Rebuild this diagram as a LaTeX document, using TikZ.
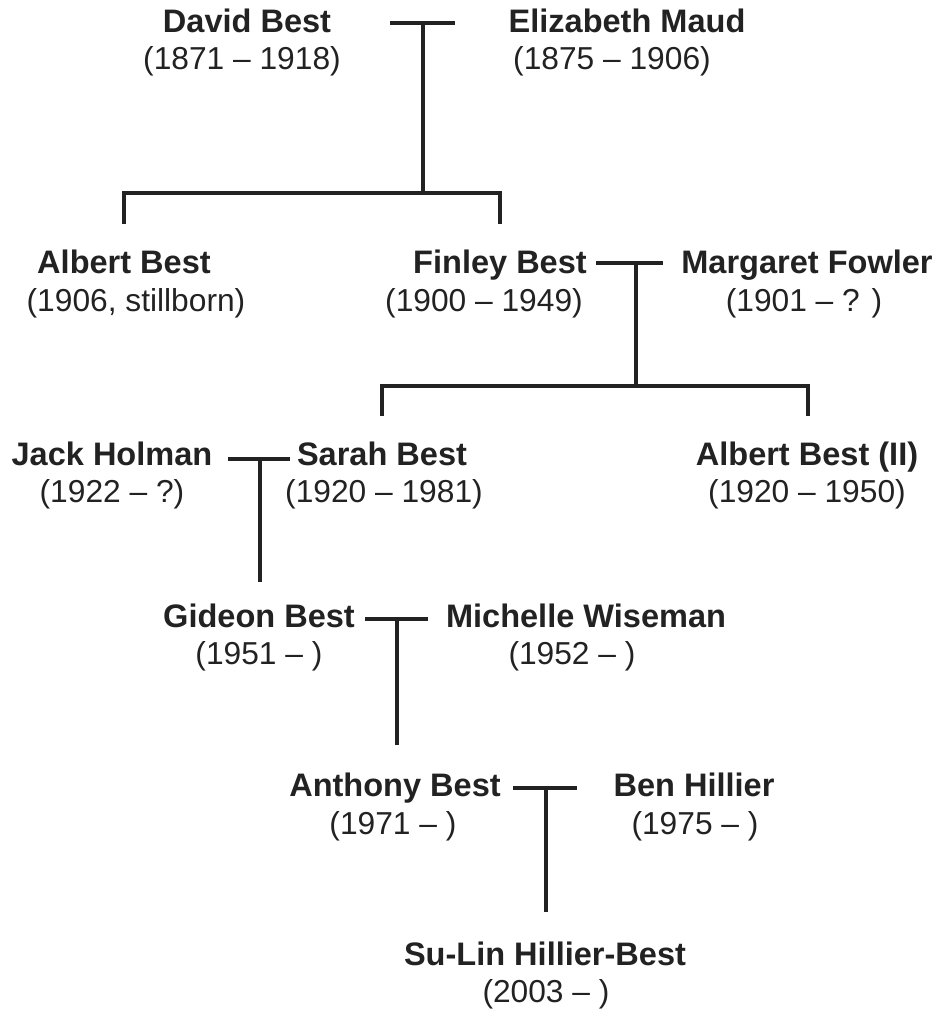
\documentclass[tikz,border=0pt]{standalone}
\usepackage{fontspec}
\setmainfont{Liberation Sans}
\definecolor{ink}{HTML}{222222}
\begin{document}
\begin{tikzpicture}[x=0.75pt,y=-0.75pt,
  nm/.style={font=\fontsize{24.4}{29}\selectfont\bfseries, anchor=base, inner sep=0pt, text=ink},
  dt/.style={font=\fontsize{23.8}{28}\selectfont, anchor=base, inner sep=0pt, text=ink},
  ln/.style={draw=ink, line width=2.9pt}]
\useasboundingbox (0,0) rectangle (941,1010);
% row 1
\node[nm] (david) at (247,32) {David Best};
\node[dt] (davidd) at (242,69) {(1871 -- 1918)};
\node[nm] (eliz) at (627,32) {Elizabeth Maud};
\node[dt] (elizd) at (612,69) {(1875 -- 1906)};
% row 2
\node[nm] (albert) at (124,273) {Albert Best};
\node[dt] (albertd) at (136,311) {(1906, stillborn)};
\node[nm] (finley) at (500,273) {Finley Best};
\node[dt] (finleyd) at (484,311) {(1900 -- 1949)};
\node[nm] (marg) at (807,273) {Margaret Fowler};
\node[dt] (margd) at (804,311) {(1901 -- ? )};
% row 3
\node[nm] (jack) at (112,465) {Jack Holman};
\node[dt] (jackd) at (112,502) {(1922 -- ?)};
\node[nm] (sarah) at (382,465) {Sarah Best};
\node[dt] (sarahd) at (384,502) {(1920 -- 1981)};
\node[nm] (albert2) at (807,465) {Albert Best (II)};
\node[dt] (albert2d) at (807,502) {(1920 -- 1950)};
% row 4
\node[nm] (gideon) at (259,627) {Gideon Best};
\node[dt] (gideond) at (259,664) {(1951 -- )};
\node[nm] (mich) at (586,627) {Michelle Wiseman};
\node[dt] (michd) at (572,664) {(1952 -- )};
% row 5
\node[nm] (anth) at (395,796) {Anthony Best};
\node[dt] (anthd) at (393,834) {(1971 -- )};
\node[nm] (ben) at (694,796) {Ben Hillier};
\node[dt] (bend) at (695,834) {(1975 -- )};
% row 6
\node[nm] (sulin) at (545,965) {Su-Lin Hillier-Best};
\node[dt] (sulind) at (546,1002) {(2003 -- )};
% marriage 1
\coordinate (m1a) at (390,23);
\coordinate (m1b) at (455,23);
\coordinate (m1) at (423,23);
\coordinate (b1) at (423,193);
\coordinate (c1a) at (124,224);
\coordinate (c1b) at (500,224);
\draw[ln] (m1a) -- (m1b);
\draw[ln] (m1) -- (b1);
\draw[ln] (c1a) -- (c1a |- b1) -- (c1b |- b1) -- (c1b);
% marriage 2
\coordinate (m2a) at (596,263);
\coordinate (m2b) at (663,263);
\coordinate (m2) at (636,263);
\coordinate (b2) at (636,386);
\coordinate (c2a) at (382,416);
\coordinate (c2b) at (808,416);
\draw[ln] (m2a) -- (m2b);
\draw[ln] (m2) -- (b2);
\draw[ln] (c2a) -- (c2a |- b2) -- (c2b |- b2) -- (c2b);
% marriage 3
\coordinate (m3a) at (228,459);
\coordinate (m3b) at (290,459);
\coordinate (m3) at (260,459);
\coordinate (c3) at (260,582);
\draw[ln] (m3a) -- (m3b);
\draw[ln] (m3) -- (c3);
% marriage 4
\coordinate (m4a) at (365,619);
\coordinate (m4b) at (428,619);
\coordinate (m4) at (397,619);
\coordinate (c4) at (397,745);
\draw[ln] (m4a) -- (m4b);
\draw[ln] (m4) -- (c4);
% marriage 5
\coordinate (m5a) at (513,788);
\coordinate (m5b) at (577,788);
\coordinate (m5) at (546,788);
\coordinate (c5) at (546,912);
\draw[ln] (m5a) -- (m5b);
\draw[ln] (m5) -- (c5);
\end{tikzpicture}
\end{document}
